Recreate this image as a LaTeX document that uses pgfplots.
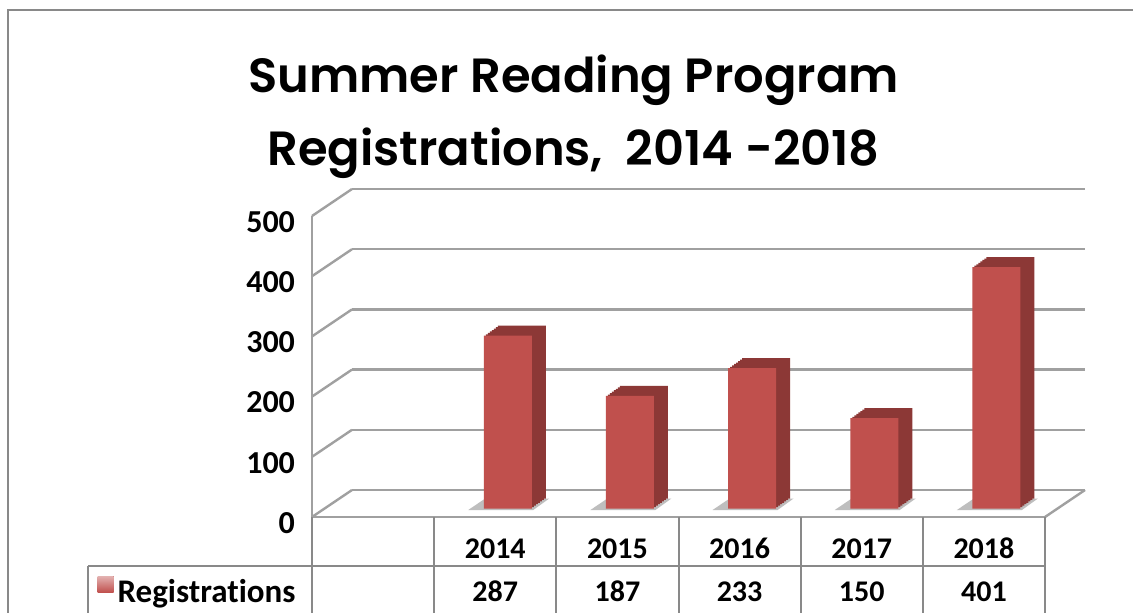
\documentclass[border=0pt]{standalone}
\usepackage{pgfplots}
\pgfplotsset{compat=1.18}
\usepackage{pgfplotstable}
\usepackage{fontspec}
\setmainfont{Carlito}[Ligatures=NoCommon]
\newfontfamily\titlefont{Poppins}[UprightFont={* SemiBold}, BoldFont={* SemiBold}]
\definecolor{barred}{RGB}{192,80,77}
\definecolor{bardark}{RGB}{140,56,54}
\definecolor{gridgray}{RGB}{160,160,160}
\definecolor{tablegray}{RGB}{137,137,137}
\definecolor{shadowgray}{RGB}{190,190,190}
% bar shadow, placed at (x,0) of the back-wall axis
\pgfdeclareplotmark{barshadow}{%
  \pgfpathmoveto{\pgfqpoint{-33.5pt}{-10pt}}%
  \pgfpathlineto{\pgfqpoint{-1pt}{-10pt}}%
  \pgfpathlineto{\pgfqpoint{7pt}{-4.25pt}}%
  \pgfpathlineto{\pgfqpoint{-25pt}{-4.25pt}}%
  \pgfpathclose\pgfusepathqfill}
\pgfplotstableread{
x year value
1.5 2014 287
2.5 2015 187
3.5 2016 233
4.5 2017 150
5.5 2018 401
}\regdata

\begin{document}
\begin{tikzpicture}
\useasboundingbox (0,0) rectangle (566.5pt,306pt);
\fill[white] (0,0) rectangle (566.5pt,306pt);
% chart frame
\draw[tablegray, line width=1pt] (4pt,-5pt) -- (4pt,301pt) -- (580pt,301pt);
% back wall
\begin{axis}[at={(176pt,61pt)}, anchor=south west, scale only axis,
  width=366.5pt, height=150.5pt, xmin=0, xmax=6, ymin=0, ymax=500,
  axis line style={draw=none}, tick style={draw=none},
  xtick=\empty, ytick={0,100,200,300,400,500}, yticklabel=\empty,
  ymajorgrids, major grid style={gridgray, line width=1.2pt}, clip=false]
\pgfplotsinvokeforeach{0,100,200,300,400,500}{
  \draw[gridgray, line width=1.2pt] (axis cs:0,#1) -- ++(-20pt,-13.5pt);
}
\draw[gridgray, line width=1.2pt] (axis cs:6,0) -- ++(-20pt,-13.5pt);
\addplot[only marks, mark=barshadow, mark options={fill=shadowgray, draw=none}]
  table[x=x, y expr=0]{\regdata};
\end{axis}
% front plane with bars
\begin{axis}[at={(156pt,47.5pt)}, anchor=south west, scale only axis,
  width=366.5pt, height=150.5pt, xmin=0, xmax=6, ymin=0, ymax=500,
  axis line style={draw=none}, tick style={draw=none}, clip=false,
  xtick={1.5,2.5,3.5,4.5,5.5},
  xticklabels={{\strut 2014\\\strut 287},{\strut 2015\\\strut 187},{\strut 2016\\\strut 233},{\strut 2017\\\strut 150},{\strut 2018\\\strut 401}},
  xticklabel style={font=\fontsize{15}{21.5}\selectfont\bfseries, align=center, yshift=-2pt},
  ytick={0,100,200,300,400,500},
  yticklabel style={font=\fontsize{16}{16}\selectfont\bfseries, xshift=-5pt, yshift=-3pt},
  /pgf/number format/assume math mode=true,
  title={Summer Reading Program\\Registrations,\ \ 2014 -2018},
  title style={font=\titlefont\fontsize{24}{36.5}\selectfont, align=center,
    at={(rel axis cs:0.357,1.29)}, anchor=center},
  legend style={draw=none, fill=none, at={(rel axis cs:-0.293,-0.252)}, anchor=west,
    font=\fontsize{16.5}{16.5}\selectfont\bfseries, inner sep=0pt},
  legend image code/.code={\shade[top color=barred!45, bottom color=barred] (0pt,-4pt) rectangle (8pt,4pt);}
]
\pgfplotsinvokeforeach{7,6,5,4,3,2,1}{
  \addplot[ybar, bar width=24pt, bar shift=0pt, fill=bardark, draw=none,
    xshift={6.25pt+#1pt}, yshift={4.25pt+#1*5/7*1pt}, forget plot]
    table[x=x, y=value]{\regdata};
}
\addplot[ybar, bar width=24pt, bar shift=0pt, fill=barred, draw=none,
  xshift=6.25pt, yshift=4.25pt] table[x=x, y=value]{\regdata};
\addlegendentry{Registrations}
\draw[gridgray, line width=1.2pt] (axis cs:0,500) -- (axis cs:0,0) -- (axis cs:6,0);
\end{axis}
% data table lines
\foreach \xx in {156,217.08,278.17,339.25,400.33,461.42,522.5}{
  \draw[tablegray, line width=1pt] (\xx pt,47.5pt) -- (\xx pt,-5pt);
}
\draw[tablegray, line width=1pt] (44pt,23pt) -- (522.5pt,23pt);
\draw[tablegray, line width=1pt] (44pt,23pt) -- (44pt,-5pt);
\end{tikzpicture}
\end{document}
